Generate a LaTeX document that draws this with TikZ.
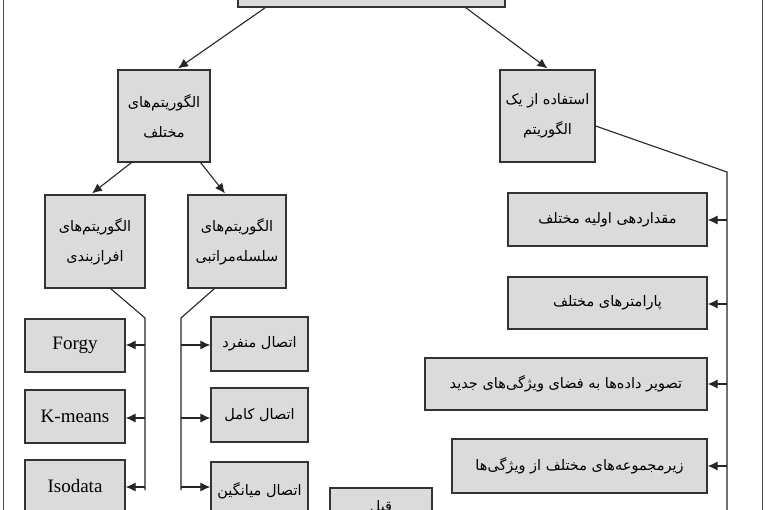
\documentclass[tikz,border=0pt]{standalone}
\usepackage{fontspec}
\setmainfont{Liberation Serif}
\newfontfamily\arabicfont[Script=Arabic]{DejaVu Sans}
\TeXXeTstate=1
\usetikzlibrary{arrows.meta}
\newcommand{\ar}[1]{{\arabicfont\beginR #1\endR}}
\begin{document}
\begin{tikzpicture}[x=1pt,y=-1pt,
  box/.style={draw=black!80,line width=1.2pt,fill=black!14,font=\fontsize{14.5}{30}\selectfont,align=center},
  conn/.style={draw=black!85,line width=1.1pt},
  arr/.style={conn,-{Latex[length=10pt,width=9pt]}}]
\useasboundingbox (0,0) rectangle (765,510);
\clip (0,0) rectangle (765,510);
\fill[white] (0,0) rectangle (765,510);
\draw[black!70,line width=1pt] (3,-5) rectangle (762,520);
\newcommand{\bx}[6]{\node[box,minimum width=#3-#1,minimum height=#4-#2,inner sep=0pt] (#5) at ({(#1+#3)/2},{(#2+#4)/2}) {#6};}
\bx{238}{-20}{505}{7}{top}{}
\bx{118}{70}{210}{162}{A}{\ar{الگوریتم‌های}\\\ar{مختلف}}
\bx{500}{70}{595}{162}{B}{\ar{استفاده از یک}\\\ar{الگوریتم}}
\bx{45}{195}{145}{288}{C}{\ar{الگوریتم‌های}\\\ar{افرازبندی}}
\bx{188}{195}{286}{288}{D}{\ar{الگوریتم‌های}\\\ar{سلسله‌مراتبی}}
\bx{25}{319}{125}{372}{f1}{\fontsize{19}{22}\selectfont Forgy}
\bx{25}{390}{125}{443}{f2}{\fontsize{19}{22}\selectfont K-means}
\bx{25}{460}{125}{530}{f3}{\raisebox{18pt}{\fontsize{19}{22}\selectfont Isodata}}
\bx{211}{317}{308}{371}{h1}{\ar{اتصال منفرد}}
\bx{211}{388}{308}{442}{h2}{\ar{اتصال کامل}}
\bx{211}{462}{308}{530}{h3}{\raisebox{14pt}{\ar{اتصال میانگین}}}
\bx{330}{488}{432}{540}{h4}{\raisebox{16pt}{\ar{قبل}}}
\bx{508}{193}{707}{246}{r1}{\ar{مقداردهی اولیه مختلف}}
\bx{508}{277}{707}{329}{r2}{\ar{پارامترهای مختلف}}
\bx{425}{358}{707}{410}{r3}{\ar{تصویر داده‌ها به فضای ویژگی‌های جدید}}
\bx{452}{439}{707}{493}{r4}{\ar{زیرمجموعه‌های مختلف از ویژگی‌ها}}
\draw[arr] ([xshift=28pt]top.south west) -- ([xshift=14pt,yshift=1pt]A.north);
\draw[arr] ([xshift=-40pt]top.south east) -- ([yshift=1pt]B.north);
\draw[arr] ([xshift=14pt]A.south west) -- ([xshift=-3pt,yshift=1pt]C.north);
\draw[arr] ([xshift=-10pt]A.south east) -- ([xshift=-12pt,yshift=1pt]D.north);
\coordinate (cb) at (145,318); \coordinate (ce) at (145,490);
\draw[conn] ([xshift=-35pt]C.south east) -- (cb) -- (ce);
\foreach \t/\y in {f1/345,f2/418,f3/487} \draw[arr] (145,\y) -- (\t.east |- 0,\y);
\coordinate (db) at (181,318); \coordinate (de) at (181,490);
\draw[conn] ([xshift=27pt]D.south west) -- (db) -- (de);
\foreach \t/\y in {h1/345,h2/418,h3/487} \draw[arr] (181,\y) -- (\t.west |- 0,\y);
\coordinate (bb) at (727,172);
\draw[conn] ([yshift=-10pt]B.east) -- (bb) -- (727,520);
\foreach \t/\y in {r1/220,r2/304,r3/384,r4/466} \draw[arr] (727,\y) -- (\t.east |- 0,\y);
\end{tikzpicture}
\end{document}
